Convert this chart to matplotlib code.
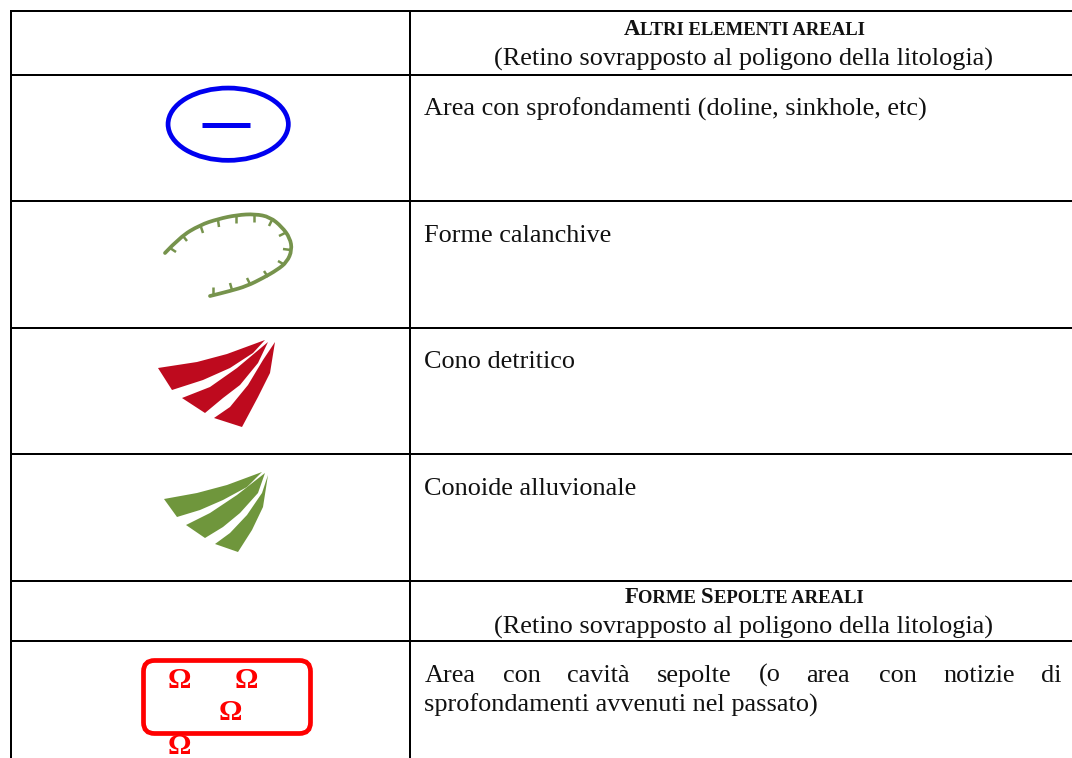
import matplotlib
matplotlib.use("Agg")
import matplotlib.pyplot as plt
from matplotlib.patches import Ellipse, FancyBboxPatch, Polygon, PathPatch
from matplotlib.path import Path

W, H = 1072, 758
SERIF = "Liberation Serif"
INK = "#111111"
BODY = 18.9

row_lines = [11, 75, 201, 328, 454, 581, 641]
col_lines = [11, 410]
body_labels = [
    ("Area con sprofondamenti (doline, sinkhole, etc)", 116, 0),
    ("Forme calanchive", 242, 0),
    ("Cono detritico", 368, 0),
    ("Conoide alluvionale", 495, 0),
    ("sprofondamenti avvenuti nel passato)", 712, 0),
]
justified_words = ["Area", "con", "cavità", "sepolte", "(o", "area", "con", "notizie", "di"]
justified_x = [425, 503, 567, 657, 759, 806, 879, 943, 1041]
headers = [
    ([("A", 16.4), ("LTRI ELEMENTI AREALI", 13.4)], 35),
    ([("F", 16.4), ("ORME ", 13.4), ("S", 16.4), ("EPOLTE AREALI", 13.4)], 603),
]
sub_header = "(Retino sovrapposto al poligono della litologia)"
sub_header_y = [66, 634]

gully_curve = [(165, 253), (180, 237), (200, 225), (218, 219), (237, 215), (255, 214), (270, 217),
               (282, 227), (290, 238), (292, 250), (287, 262), (277, 270), (263, 278), (247, 286),
               (230, 291), (210, 296)]
gully_ticks = [((170, 248), (176, 252)), ((183, 236), (187, 241)), ((201, 227), (203, 233)),
               ((218, 220), (219, 227)), ((236, 216), (236, 223)), ((254, 215), (254, 222)),
               ((272, 220), (269, 226)), ((285, 233), (279, 236)), ((291, 250), (283, 249)),
               ((285, 265), (278, 261)), ((268, 277), (264, 271)), ((250, 284), (247, 278)),
               ((232, 290), (230, 283)), ((213, 295), (213, 287))]
red_fan = [
    [(158, 368), (197, 362), (227, 354), (265, 340), (253, 353), (230, 368), (203, 380), (172, 390)],
    [(182, 398), (210, 387), (237, 368), (268, 342), (258, 363), (240, 385), (223, 398), (205, 413)],
    [(214, 418), (230, 407), (248, 385), (263, 360), (275, 342), (270, 373), (258, 397), (242, 427)],
]
green_fan = [
    [(164, 499), (197, 493), (227, 485), (262, 472), (247, 487), (223, 500), (200, 510), (177, 517)],
    [(186, 525), (210, 513), (237, 495), (265, 473), (258, 493), (240, 513), (223, 527), (205, 538)],
    [(215, 544), (230, 533), (247, 515), (262, 493), (268, 475), (263, 507), (252, 530), (238, 552)],
]
omega_x = [179, 246, 230, 179]
omega_y = [680, 680, 713, 746]


def smooth(points):
    verts = [points[0]]
    codes = [Path.MOVETO]
    for (x0, y0), (x1, y1) in zip(points[1:-1], points[2:]):
        verts += [(x0, y0), ((x0 + x1) / 2, (y0 + y1) / 2)]
        codes += [Path.CURVE3, Path.CURVE3]
    verts.append(points[-1])
    codes.append(Path.LINETO)
    return Path(verts, codes)


fig = plt.figure(figsize=(W / 100, H / 100), dpi=100, facecolor="white")
ax = fig.add_axes([0, 0, 1, 1])
ax.set_xlim(0, W)
ax.set_ylim(H, 0)
ax.axis("off")

for y in row_lines:
    ax.plot([10, W], [y, y], color="black", lw=1.44, solid_capstyle="butt")
for x in col_lines:
    ax.plot([x, x], [row_lines[0] - 1, H], color="black", lw=1.44, solid_capstyle="butt")

for label, y, _ in body_labels:
    ax.text(424, y, label, family=SERIF, fontsize=BODY, color=INK, ha="left", va="baseline")
for word, x in zip(justified_words, justified_x):
    ax.text(x, 682, word, family=SERIF, fontsize=BODY, color=INK, ha="left", va="baseline")
for y in sub_header_y:
    ax.text(744, y, sub_header, family=SERIF, fontsize=BODY, color=INK, ha="center", va="baseline")

renderer = fig.canvas.get_renderer()
for parts, y in headers:
    pieces = [ax.text(0, y, s, family=SERIF, fontsize=size, weight="bold", color=INK,
                      ha="left", va="baseline") for s, size in parts]
    fig.canvas.draw()
    widths = [t.get_window_extent(renderer).width for t in pieces]
    x = 744 - sum(widths) / 2
    for t, w in zip(pieces, widths):
        t.set_position((x, y))
        x += w

ax.add_patch(Ellipse((228.2, 124.2), 120.3, 72.3, fill=False, edgecolor="#0000f0", lw=3.4))
ax.plot([202, 250], [124.7, 124.7], color="#0000f0", lw=3.6, solid_capstyle="butt")

ax.add_patch(PathPatch(smooth(gully_curve), fill=False, edgecolor="#76934c", lw=2.7, capstyle="round"))
for a, b in gully_ticks:
    ax.plot([a[0], b[0]], [a[1], b[1]], color="#76934c", lw=1.8, solid_capstyle="butt")

for pts in red_fan:
    ax.add_patch(Polygon(pts, closed=True, facecolor="#be0a1e", edgecolor="none"))
for pts in green_fan:
    ax.add_patch(Polygon(pts, closed=True, facecolor="#6f963c", edgecolor="none"))

ax.add_patch(FancyBboxPatch((143.5, 660.5), 167, 73, boxstyle="round,pad=0,rounding_size=11",
                            fill=False, edgecolor="#ff0000", lw=3.4))
for x, y in zip(omega_x, omega_y):
    ax.text(x, y, "Ω", family=SERIF, fontsize=21, weight="bold", color="#ff0000",
            ha="center", va="center", clip_on=True)

fig.savefig("out.png", dpi=100, facecolor="white")
